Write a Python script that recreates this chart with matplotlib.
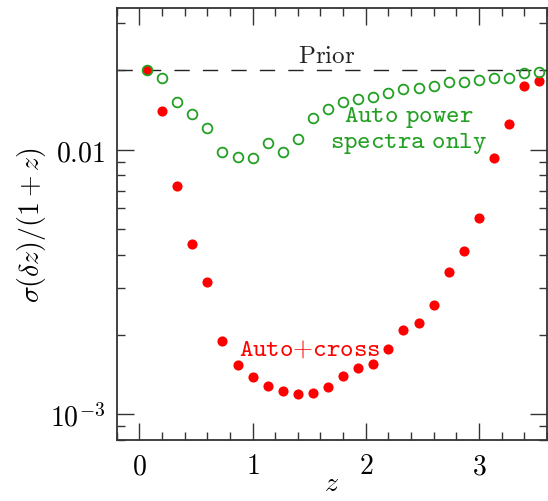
import matplotlib
matplotlib.use('Agg')
import matplotlib.pyplot as plt
from matplotlib.ticker import MultipleLocator, LogLocator, NullFormatter

plt.rcParams['mathtext.fontset'] = 'cm'

# redshift bins
z = [0.067, 0.200, 0.333, 0.467, 0.600, 0.733, 0.867, 1.000, 1.133,
     1.267, 1.400, 1.533, 1.667, 1.800, 1.933, 2.067, 2.200, 2.333,
     2.467, 2.600, 2.733, 2.867, 3.000, 3.133, 3.267, 3.400, 3.533]

# sigma(dz)/(1+z), auto power spectra only (open green)
auto_only = [0.0200, 0.0187, 0.0151, 0.0136, 0.0121, 0.00983, 0.00939,
             0.00930, 0.0106, 0.00983, 0.0110, 0.0132, 0.0143, 0.0151,
             0.0155, 0.0158, 0.0163, 0.0169, 0.0171, 0.0174, 0.0180,
             0.0180, 0.0184, 0.0187, 0.0187, 0.0195, 0.0196]

# auto + cross (filled red)
auto_cross = [0.0200, 0.0140, 0.00729, 0.00441, 0.00316, 0.00190, 0.00153,
              0.00138, 0.00128, 0.00123, 0.00119, 0.00120, 0.00127, 0.00139,
              0.00150, 0.00155, 0.00177, 0.00209, 0.00221, 0.00258, 0.00345,
              0.00415, 0.00553, 0.00928, 0.0125, 0.0174, 0.0181]

prior = 0.02

red = '#ff0000'
green = '#22a022'

fig = plt.figure(figsize=(5.48, 5.02), dpi=100)
ax = fig.add_axes([0.213, 0.1215, 0.785, 0.86])

ax.axhline(prior, color='#222222', lw=1.0, dashes=(11, 9.5), zorder=1)
ax.plot(z, auto_cross, 'o', color=red, ms=7.3, mec='none', zorder=2)
ax.plot(z, auto_only, 'o', mfc='none', mec=green, ms=7.0, mew=1.3, zorder=3)

ax.text(1.655, 0.0215, r'$\mathrm{Prior}$', fontsize=18, color='#222222',
        ha='center', va='baseline')
ax.text(2.383, 0.01194, r'$\mathtt{Auto\ power}$' + '\n' + r'$\mathtt{spectra\ only}$',
        fontsize=18.5, color=green, ha='center', va='center', linespacing=0.9)
ax.text(1.507, 0.00168, r'$\mathtt{Auto{+}cross}$', fontsize=18.5, color=red,
        ha='center', va='baseline')

ax.set_yscale('log')
ax.set_xlim(-0.2, 3.6)
ax.set_ylim(8e-4, 0.0342)

ax.set_xticks([0, 1, 2, 3], [r'$0$', r'$1$', r'$2$', r'$3$'])
ax.xaxis.set_minor_locator(MultipleLocator(0.2))
ax.set_yticks([1e-3, 1e-2], [r'$10^{-3}$', r'$0.01$'])
ax.yaxis.set_minor_locator(LogLocator(base=10, subs=range(2, 10)))
ax.yaxis.set_minor_formatter(NullFormatter())

ax.tick_params(which='both', direction='in', top=True, right=True,
               color='#333333', width=1.0, labelsize=20)
ax.tick_params(which='major', length=12, pad=8)
ax.tick_params(which='minor', length=6)
for s in ax.spines.values():
    s.set_linewidth(1.3)
    s.set_color('#333333')

ax.set_xlabel(r'$z$', fontsize=20, labelpad=-8)
ax.set_ylabel(r'$\sigma(\delta z)/(1+z)$', fontsize=20, labelpad=2)

fig.savefig('out.png', dpi=100)
